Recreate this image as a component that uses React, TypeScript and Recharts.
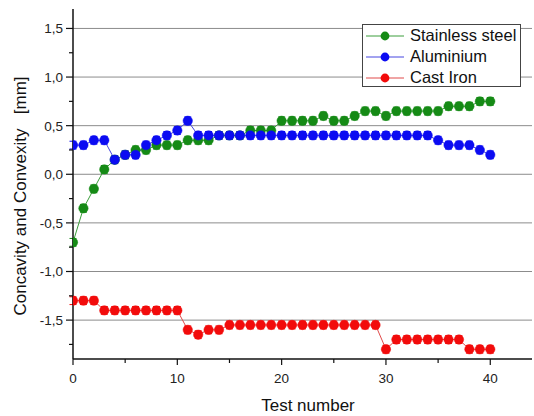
import { LineChart, Line, XAxis, YAxis, CartesianGrid, ErrorBar, Legend, Label } from "recharts";

const testNumbers = [
  0, 1, 2, 3, 4, 5, 6, 7, 8, 9, 10, 11, 12, 13, 14, 15, 16, 17, 18, 19, 20,
  21, 22, 23, 24, 25, 26, 27, 28, 29, 30, 31, 32, 33, 34, 35, 36, 37, 38, 39, 40,
];

const stainlessSteel = [
  -0.7, -0.35, -0.15, 0.05, 0.15, 0.2, 0.25, 0.25, 0.3, 0.3, 0.3, 0.35, 0.35, 0.35,
  0.4, 0.4, 0.4, 0.45, 0.45, 0.45, 0.55, 0.55, 0.55, 0.55, 0.6, 0.55, 0.55, 0.6,
  0.65, 0.65, 0.6, 0.65, 0.65, 0.65, 0.65, 0.65, 0.7, 0.7, 0.7, 0.75, 0.75,
];

const aluminium = [
  0.3, 0.3, 0.35, 0.35, 0.15, 0.2, 0.2, 0.3, 0.35, 0.4, 0.45, 0.55, 0.4, 0.4,
  0.4, 0.4, 0.4, 0.4, 0.4, 0.4, 0.4, 0.4, 0.4, 0.4, 0.4, 0.4, 0.4, 0.4, 0.4,
  0.4, 0.4, 0.4, 0.4, 0.4, 0.4, 0.35, 0.3, 0.3, 0.3, 0.25, 0.2,
];

const castIron = [
  -1.3, -1.3, -1.3, -1.4, -1.4, -1.4, -1.4, -1.4, -1.4, -1.4, -1.4, -1.6, -1.65,
  -1.6, -1.6, -1.55, -1.55, -1.55, -1.55, -1.55, -1.55, -1.55, -1.55, -1.55,
  -1.55, -1.55, -1.55, -1.55, -1.55, -1.55, -1.8, -1.7, -1.7, -1.7, -1.7, -1.7,
  -1.7, -1.7, -1.8, -1.8, -1.8,
];

const measureError = 0.04;

const xTicks = [0, 5, 10, 15, 20, 25, 30, 35, 40];
const yTicks = [-1.75, -1.5, -1.25, -1, -0.75, -0.5, -0.25, 0, 0.25, 0.5, 0.75, 1, 1.25, 1.5];
const yGrid = [-1.5, -1, -0.5, 0, 0.5, 1, 1.5];

const series = [
  { key: "steel", name: "Stainless steel", color: "#158a15", line: "#3c9e3c" },
  { key: "alu", name: "Aluminium", color: "#0b0bf2", line: "#4646e0" },
  { key: "iron", name: "Cast Iron", color: "#f20b0b", line: "#e04a4a" },
];

const data = testNumbers.map((t, i) => ({
  test: t,
  steel: stainlessSteel[i],
  alu: aluminium[i],
  iron: castIron[i],
  err: measureError,
}));

const font = "'Liberation Sans', Arial, sans-serif";
const axisColor = "#111";

const fmt = (v: number) => v.toFixed(1).replace(".", ",");

function YTick(props: any) {
  const { x, y, payload } = props;
  const v = payload.value;
  const major = Math.abs(v * 2 - Math.round(v * 2)) < 1e-6;
  return (
    <g>
      <line x1={x - (major ? 7 : 4)} x2={x} y1={y} y2={y} stroke={axisColor} strokeWidth={1.2} />
      {major && (
        <text x={x - 10} y={y} dy="0.36em" textAnchor="end" fontSize={13.5} fontFamily={font} fill="#222">
          {fmt(v)}
        </text>
      )}
    </g>
  );
}

function XTickBottom(props: any) {
  const { x, y, payload } = props;
  const major = payload.value % 10 === 0;
  return (
    <g>
      <line x1={x} x2={x} y1={y} y2={y + (major ? 6 : 4)} stroke={axisColor} strokeWidth={1.2} />
      {major && (
        <text x={x} y={y + 24} textAnchor="middle" fontSize={13.5} fontFamily={font} fill="#222">
          {payload.value}
        </text>
      )}
    </g>
  );
}

function XTickTop(props: any) {
  const { x, y, payload } = props;
  const major = payload.value % 10 === 0;
  return <line x1={x} x2={x} y1={y} y2={y + (major ? 6 : 3)} stroke={axisColor} strokeWidth={1.2} />;
}

function LegendBox() {
  return (
    <div
      style={{
        border: "1px solid #444",
        background: "#fff",
        width: 159,
        height: 63,
        boxSizing: "border-box",
        padding: "0 2px 0 3px",
        fontFamily: font,
        fontSize: 16.5,
        color: "#111",
      }}
    >
      {series.map((s) => (
        <div key={s.key} style={{ display: "flex", alignItems: "center", height: 21 }}>
          <svg width={38} height={12} style={{ flex: "none" }}>
            <line x1={0} x2={38} y1={6} y2={6} stroke={s.line} strokeWidth={1} />
            <circle cx={19} cy={6} r={4.4} fill={s.color} />
          </svg>
          <span style={{ marginLeft: 6, whiteSpace: "nowrap" }}>{s.name}</span>
        </div>
      ))}
    </div>
  );
}

export default function App() {
  return (
    <div>
      <style>{"body{margin:0}"}</style>
      <LineChart width={534} height={416} data={data} margin={{ top: 9, right: 2, bottom: 0, left: 0 }}>
        <CartesianGrid vertical={false} horizontalValues={yGrid} stroke="#8c8c8c" />
        <XAxis
          dataKey="test"
          type="number"
          domain={[0, 44]}
          ticks={xTicks}
          interval={0}
          tick={(p: any) => <XTickBottom {...p} />}
          tickSize={0}
          tickMargin={0}
          tickLine={false}
          height={57}
          axisLine={{ stroke: axisColor, strokeWidth: 1.5 }}
          allowDataOverflow
        >
          <Label
            content={({ viewBox }: any) => (
              <text
                x={viewBox.x + viewBox.width / 2 + 5.5}
                y={viewBox.y + 51.5}
                textAnchor="middle"
                fontSize={17}
                fontFamily={font}
                fill="#111"
              >
                Test number
              </text>
            )}
          />
        </XAxis>
        <XAxis
          xAxisId="top"
          orientation="top"
          dataKey="test"
          type="number"
          domain={[0, 44]}
          ticks={xTicks}
          interval={0}
          tick={(p: any) => <XTickTop {...p} />}
          tickSize={0}
          tickMargin={0}
          tickLine={false}
          height={0}
          axisLine={{ stroke: axisColor, strokeWidth: 1.5 }}
          allowDataOverflow
        />
        <YAxis
          type="number"
          domain={[-1.9, 1.7]}
          ticks={yTicks}
          interval={0}
          tick={(p: any) => <YTick {...p} />}
          tickSize={0}
          tickMargin={0}
          tickLine={false}
          width={73}
          axisLine={{ stroke: axisColor, strokeWidth: 1.5 }}
          allowDataOverflow
        >
          <Label
            content={({ viewBox }: any) => {
              const cx = viewBox.x + 25.5;
              const cy = viewBox.y + viewBox.height / 2 + 12;
              return (
                <text
                  x={cx}
                  y={cy}
                  transform={`rotate(-90 ${cx} ${cy})`}
                  textAnchor="middle"
                  fontSize={17}
                  fontFamily={font}
                  fill="#111"
                >
                  {"Concavity and Convexity\u00A0\u00A0\u00A0[mm]"}
                </text>
              );
            }}
          />
        </YAxis>
        <Legend
          layout="vertical"
          align="center"
          verticalAlign="middle"
          content={() => <LegendBox />}
          wrapperStyle={{ left: 362, top: 24, width: 159 }}
        />
        {series.map((s) => (
          <Line
            key={s.key}
            type="linear"
            dataKey={s.key}
            name={s.name}
            stroke={s.line}
            strokeWidth={1}
            dot={{ r: 4.7, fill: s.color, stroke: s.color, strokeWidth: 0.5 }}
            activeDot={false}
            isAnimationActive={false}
          >
            <ErrorBar dataKey="err" width={3.5} stroke={s.color} strokeWidth={1} direction="y" />
          </Line>
        ))}
      </LineChart>
    </div>
  );
}
